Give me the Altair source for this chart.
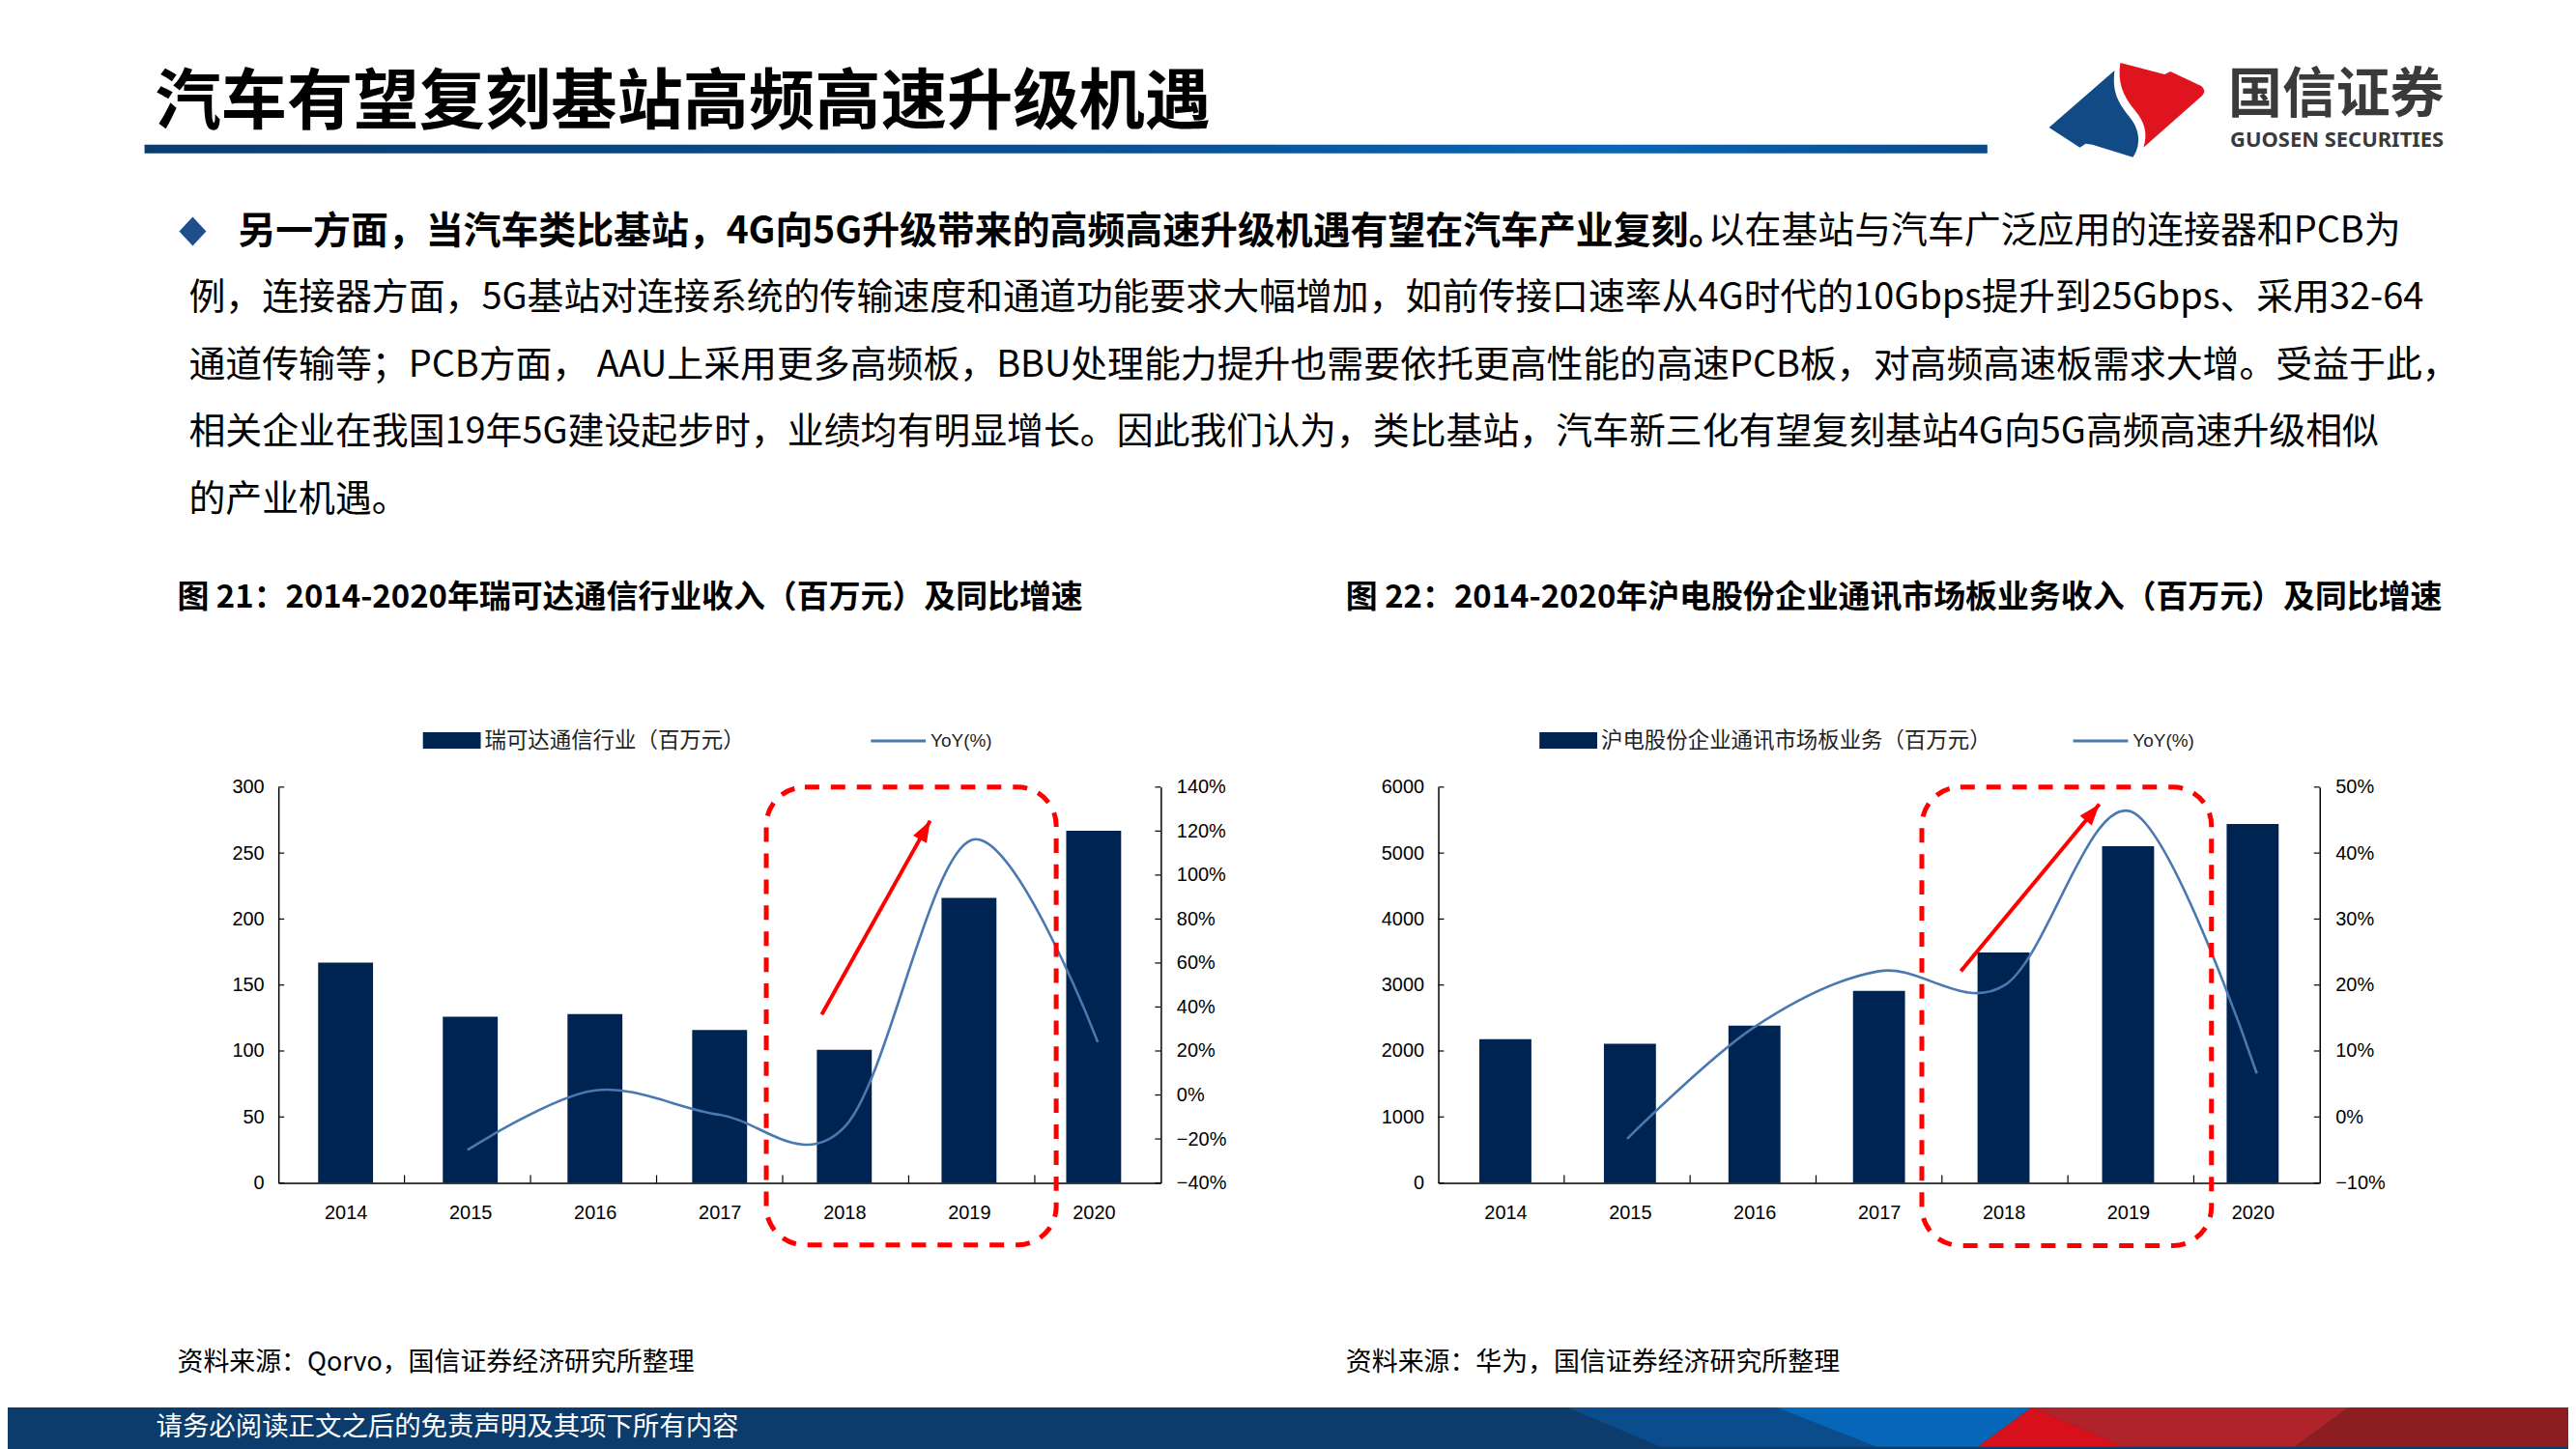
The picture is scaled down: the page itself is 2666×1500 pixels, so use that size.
import altair as alt
import pandas as pd

# ---------------- canvas ----------------
W, H = 2658, 1492          # drawing area (page 2666x1500 minus the 8px top/left margin)
M = 8                      # page margin, page coords -> canvas coords
CJK = "Noto Sans CJK SC"
NUM = "Liberation Sans, Arial, Noto Sans"

# ---------------- data ----------------
years = [2014, 2015, 2016, 2017, 2018, 2019, 2020]
yoy_years = [2015, 2016, 2017, 2018, 2019, 2020]
rkd_revenue = [167, 126, 128, 116, 101, 216, 267]
rkd_yoy = [-25, 2, -9, -14, 116, 24]
hd_revenue = [2180, 2110, 2385, 2910, 3495, 5105, 5440]
hd_yoy = [-3.3, 13.5, 22.1, 20.0, 46.3, 6.6]

rkd_left_ticks = [0, 50, 100, 150, 200, 250, 300]
rkd_right_ticks = [-40, -20, 0, 20, 40, 60, 80, 100, 120, 140]
hd_left_ticks = [0, 1000, 2000, 3000, 4000, 5000, 6000]
hd_right_ticks = [-10, 0, 10, 20, 30, 40, 50]
category_bounds = [2014.5, 2015.5, 2016.5, 2017.5, 2018.5, 2019.5]

# ---------------- texts ----------------
title_text = "汽车有望复刻基站高频高速升级机遇"
para_bold = "另一方面，当汽车类比基站，4G向5G升级带来的高频高速升级机遇有望在汽车产业复刻。"
para_first_rest = "以在基站与汽车广泛应用的连接器和PCB为"
para_lines = [
    "例，连接器方面，5G基站对连接系统的传输速度和通道功能要求大幅增加，如前传接口速率从4G时代的10Gbps提升到25Gbps、采用32-64",
    "通道传输等；PCB方面， AAU上采用更多高频板，BBU处理能力提升也需要依托更高性能的高速PCB板，对高频高速板需求大增。受益于此，",
    "相关企业在我国19年5G建设起步时，业绩均有明显增长。因此我们认为，类比基站，汽车新三化有望复刻基站4G向5G高频高速升级相似",
    "的产业机遇。",
]
fig1_title = "图 21：2014-2020年瑞可达通信行业收入（百万元）及同比增速"
fig2_title = "图 22：2014-2020年沪电股份企业通讯市场板业务收入（百万元）及同比增速"
fig1_bar_label = "瑞可达通信行业（百万元）"
fig2_bar_label = "沪电股份企业通讯市场板业务（百万元）"
line_label = "YoY(%)"
source1 = "资料来源：Qorvo，国信证券经济研究所整理"
source2 = "资料来源：华为，国信证券经济研究所整理"
footer_text = "请务必阅读正文之后的免责声明及其项下所有内容"
logo_cn = "国信证券"
logo_en = "GUOSEN SECURITIES"

BAR = "#002452"
LINE = "#4a78b0"
RED = "#ff0000"

dummy = pd.DataFrame({"d": [0]})


def text(s, x, y, size, weight="normal", color="#000000", font=CJK, align="left"):
    return alt.Chart(pd.DataFrame({"t": [s]})).mark_text(
        align=align, baseline="middle", font=font, fontSize=size,
        fontWeight=weight, color=color
    ).encode(x=alt.value(x - M), y=alt.value(y - M), text="t:N")


def box(x0, y0, x1, y1, color, **kw):
    return alt.Chart(dummy).mark_rect(color=color, **kw).encode(
        x=alt.value(x0 - M), x2=alt.value(x1 - M),
        y=alt.value(y0 - M), y2=alt.value(y1 - M))


def shape(path, color, dx=0, dy=0):
    # path written in page coordinates; symbol anchored at page origin
    return alt.Chart(dummy).mark_point(
        shape=path, size=4, filled=True, fill=color, opacity=1, strokeWidth=0
    ).encode(x=alt.value(-M + dx), y=alt.value(-M + dy))


layers = []

# ---------------- header ----------------
layers.append(text(title_text, 161, 105, 68.5, weight="bold"))
layers.append(box(150, 148, 2063, 157, "#0b4a88", fill={
    "gradient": "linear", "x1": 0, "x2": 1, "y1": 0, "y2": 0,
    "stops": [{"offset": 0, "color": "#0c3c6f"},
              {"offset": 0.55, "color": "#0b5296"},
              {"offset": 0.8, "color": "#0a66b8"},
              {"offset": 1, "color": "#0b4a88"}]}))
layers.append(shape("M 2123 130 L 2191 71 C 2188 95 2196 106 2208 121 "
                    "C 2218 134 2218 150 2210 161 L 2168 148 L 2161 147 L 2155 151 Z",
                    "#124a85", dx=4))
layers.append(shape("M 2197 63 L 2243 75 L 2249 72 L 2281 87 Q 2287 92 2282 97 "
                    "L 2221 151 C 2226 136 2222 124 2212 112 C 2199 97 2194 82 2197 63 Z",
                    "#e0141e", dx=4))
layers.append(text(logo_cn, 2313, 97, 56, weight="bold", color="#3a3a3a"))
layers.append(text(logo_en, 2315, 143, 22, weight="bold", color="#3a3a3a",
                   font="Noto Sans"))

# ---------------- paragraph ----------------
layers.append(shape("M 200 223 L 214 238 L 200 253 L 186 238 Z", "#1f4e8c"))
layers.append(text(para_bold, 247, 238, 39, weight="bold"))
layers.append(text(para_first_rest, 1773, 238, 38))
for i, ln in enumerate(para_lines):
    layers.append(text(ln, 196, 308 + i * 69.7, 38))

# ---------------- figure captions / sources ----------------
layers.append(text(fig1_title, 184, 619, 33, weight="bold"))
layers.append(text(fig2_title, 1397, 619, 33, weight="bold"))
layers.append(text(source1, 184, 1413, 27))
layers.append(text(source2, 1397, 1413, 27))

# ---------------- footer ----------------
layers.append(box(0, 1459, 2680, 1510, "#0b3c6c"))
layers.append(shape("M 1627 1459 L 1844 1459 L 1948 1500 L 1724 1500 Z", "#0b4c8c"))
layers.append(shape("M 1844 1459 L 2109 1459 L 2053 1500 L 1948 1500 Z", "#0666b8"))
layers.append(shape("M 2109 1459 L 2438 1459 L 2382 1500 L 2206 1500 Z", "#b0232b"))
layers.append(shape("M 2109 1459 L 2206 1500 L 2053 1500 Z", "#d8101c"))
layers.append(shape("M 2438 1459 L 2680 1459 L 2680 1500 L 2382 1500 Z", "#8c1e22"))
layers.append(text(footer_text, 162, 1480, 27.5, color="#ffffff"))


# ---------------- chart panels ----------------
def panel(cfg):
    out = []
    ybot, ytop = cfg["ybot"] - M, cfg["ytop"] - M
    xl, xr = cfg["x0"] - M, cfg["x1"] - M
    xs = alt.Scale(domain=[2013.5, 2020.5], range=[xl, xr], nice=False, zero=False)
    yl = alt.Scale(domain=cfg["ldom"], range=[ybot, ytop], nice=False, zero=False)
    yr = alt.Scale(domain=cfg["rdom"], range=[ybot, ytop], nice=False, zero=False)

    common = dict(labelFont=NUM, labelFontSize=20, labelColor="#000",
                  domainColor="#000", domainWidth=1.5, grid=False, title=None)
    xaxis = alt.Axis(orient="bottom", offset=ybot - H, values=years, format="d",
                     ticks=False, labelPadding=21, labelAngle=0, **common)
    laxis = alt.Axis(orient="left", offset=-xl, values=cfg["lticks"], format="d",
                     ticks=False, labelPadding=15, **common)
    raxis = alt.Axis(orient="right", offset=xr - W, values=cfg["rticks"],
                     ticks=False, labelPadding=16,
                     labelExpr="replace(datum.value + '%', '-', '\u2212')", **common)

    bars = pd.DataFrame({"year": years, "v": cfg["rev"], "base": [0] * len(years)})
    out.append(alt.Chart(bars).mark_bar(color=BAR, size=cfg["bw"]).encode(
        x=alt.X("year:Q", scale=xs, axis=xaxis),
        y=alt.Y("v:Q", scale=yl, axis=laxis),
        y2="base:Q"))

    # inward tick marks (category boundaries on x, values on both y axes)
    bd = pd.DataFrame({"b": category_bounds})
    out.append(alt.Chart(bd).mark_rule(color="#000", strokeWidth=1.2).encode(
        x=alt.X("b:Q", scale=xs, axis=None),
        y=alt.value(ybot), y2=alt.value(ybot - 8)))
    lt = pd.DataFrame({"t": cfg["lticks"]})
    out.append(alt.Chart(lt).mark_rule(color="#000", strokeWidth=1.2).encode(
        y=alt.Y("t:Q", scale=yl, axis=None),
        x=alt.value(xl), x2=alt.value(xl + 6)))
    rt = pd.DataFrame({"t": cfg["rticks"]})
    out.append(alt.Chart(rt).mark_rule(color="#000", strokeWidth=1.2).encode(
        y=alt.Y("t:Q", scale=yr, axis=None),
        x=alt.value(xr), x2=alt.value(xr - 6)))

    ln = pd.DataFrame({"year": yoy_years, "v": cfg["yoy"]})
    out.append(alt.Chart(ln).mark_line(interpolate="cardinal", tension=0, color=LINE,
                                       strokeWidth=2.6).encode(
        x=alt.X("year:Q", scale=xs, axis=None),
        y=alt.Y("v:Q", scale=yr, axis=raxis)))

    bx = pd.DataFrame({"x0": [cfg["box"][0]], "x1": [cfg["box"][1]],
                       "y0": [cfg["box"][2]], "y1": [cfg["box"][3]]})
    out.append(alt.Chart(bx).mark_rect(color=RED, fillOpacity=0, stroke=RED,
                                       strokeWidth=5, strokeDash=[15, 12],
                                       cornerRadius=40).encode(
        x=alt.X("x0:Q", scale=xs, axis=None), x2="x1:Q",
        y=alt.Y("y0:Q", scale=yl, axis=None), y2="y1:Q"))

    ar = pd.DataFrame({"xa": [cfg["arrow"][0]], "ya": [cfg["arrow"][1]],
                       "xb": [cfg["arrow"][2]], "yb": [cfg["arrow"][3]]})
    out.append(alt.Chart(ar).mark_rule(color=RED, strokeWidth=4).encode(
        x=alt.X("xa:Q", scale=xs, axis=None), x2="xb:Q",
        y=alt.Y("ya:Q", scale=yr, axis=None), y2="yb:Q"))
    out.append(alt.Chart(ar).mark_point(shape="M 0 0 L 8 22 L -8 22 Z", size=4,
                                        filled=True, fill=RED, opacity=1,
                                        strokeWidth=0, angle=cfg["angle"]).encode(
        x=alt.X("xb:Q", scale=xs, axis=None),
        y=alt.Y("yb:Q", scale=yr, axis=None)))

    # legend
    lg = cfg["legend"]
    out.append(box(lg[0], 758, lg[0] + 60, 775, BAR))
    out.append(text(cfg["bar_label"], lg[0] + 64, 767, 22.5, color="#222"))
    out.append(alt.Chart(dummy).mark_rule(color=LINE, strokeWidth=3).encode(
        x=alt.value(lg[1] - M), x2=alt.value(lg[1] + 57 - M), y=alt.value(767 - M)))
    out.append(text(line_label, lg[1] + 62, 767, 19, color="#222", font=NUM))
    return out


layers += panel(dict(x0=289, x1=1205, ybot=1226, ytop=815,
                     ldom=[0, 300], rdom=[-40, 140],
                     lticks=rkd_left_ticks, rticks=rkd_right_ticks,
                     rev=rkd_revenue, yoy=rkd_yoy, bw=57,
                     box=[2017.37, 2019.67, -47, 300],
                     arrow=[2017.81, 36.6, 2018.67, 124.7], angle=29,
                     legend=[439, 904], bar_label=fig1_bar_label))
layers += panel(dict(x0=1493, x1=2408, ybot=1226, ytop=815,
                     ldom=[0, 6000], rdom=[-10, 50],
                     lticks=hd_left_ticks, rticks=hd_right_ticks,
                     rev=hd_revenue, yoy=hd_yoy, bw=54,
                     box=[2017.34, 2019.64, -950, 6000],
                     arrow=[2017.65, 22.1, 2018.75, 47.4], angle=39.6,
                     legend=[1598, 2152], bar_label=fig2_bar_label))

chart = alt.layer(*layers).resolve_scale(
    x="independent", y="independent"
).properties(
    width=W, height=H, padding=0,
    autosize=alt.AutoSizeParams(type="none"),
    background="white",
).configure_view(strokeWidth=0)

chart.save("out.html", embed_options={"renderer": "svg", "actions": False})
